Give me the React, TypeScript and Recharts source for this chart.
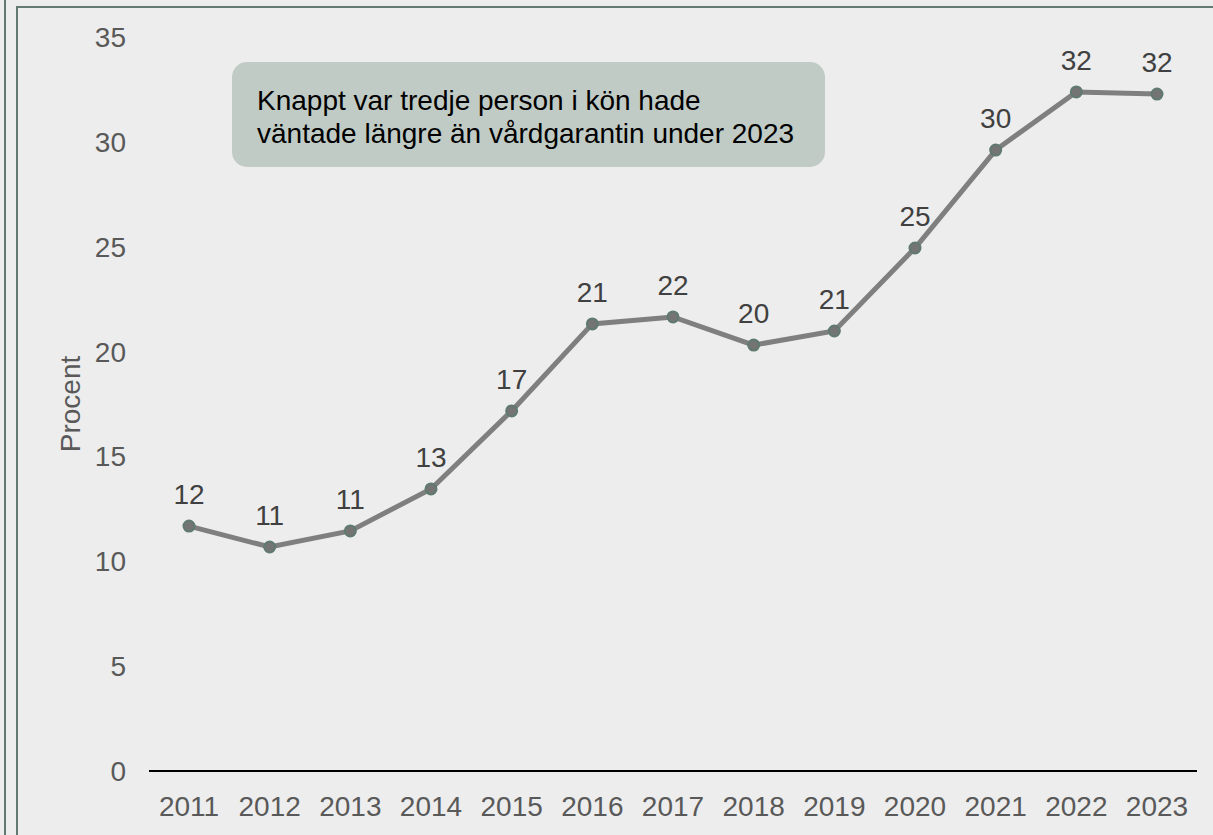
import React from 'react';
import { LineChart, Line, XAxis, YAxis, LabelList } from 'recharts';

const years = ['2011','2012','2013','2014','2015','2016','2017','2018','2019','2020','2021','2022','2023'];
const procent = [11.68, 10.68, 11.45, 13.45, 17.17, 21.32, 21.65, 20.31, 20.98, 24.94, 29.61, 32.38, 32.28];
const yTicks = [0, 5, 10, 15, 20, 25, 30, 35];
const annotationLines = ['Knappt var tredje person i kön hade', 'väntade längre än vårdgarantin under 2023'];
const yLabel = 'Procent';

const data = years.map((y, i) => ({ year: y, value: procent[i] }));

const FONT = '"Liberation Sans", Arial, sans-serif';
const BORDER = '#627a70';

export default function App() {
  return (
    <div style={{ position: 'absolute', left: 0, top: 0, width: 1213, height: 835, background: '#ededed', overflow: 'hidden', fontFamily: FONT }}>
      <div style={{ position: 'absolute', left: 4, top: 0, width: 2, height: 835, background: BORDER }} />
      <div style={{ position: 'absolute', left: 16, top: 6, width: 1197, height: 2, background: BORDER }} />
      <div style={{ position: 'absolute', left: 16, top: 6, width: 2, height: 829, background: BORDER }} />
      <div style={{ position: 'absolute', left: 0, top: 0 }}>
        <LineChart width={1213} height={835} data={data} margin={{ top: 37, right: 16, bottom: 0, left: 0 }}>
          <XAxis
            dataKey="year"
            height={64}
            padding={{ left: 40, right: 40 }}
            axisLine={{ stroke: '#000000', strokeWidth: 2 }}
            tickLine={false}
            tickSize={0}
            tickMargin={25}
            tick={{ fill: '#595959', fontSize: 28, fontFamily: FONT }}
            interval={0}
          />
          <YAxis
            width={149}
            domain={[0, 35]}
            ticks={yTicks}
            axisLine={false}
            tickLine={false}
            tickSize={0}
            tickMargin={23}
            tick={{ fill: '#595959', fontSize: 28, fontFamily: FONT }}
            label={{
              content: () => (
                <text x={80} y={404} transform="rotate(-90 80 404)" textAnchor="middle" fill="#595959" fontSize={28} fontFamily={FONT}>
                  {yLabel}
                </text>
              ),
            }}
          />
          <Line
            type="linear"
            dataKey="value"
            stroke="#7f7f7f"
            strokeWidth={5}
            dot={{ r: 5.5, fill: '#747474', stroke: '#5f7a6e', strokeWidth: 2 }}
            isAnimationActive={false}
          >
            <LabelList
              dataKey="value"
              position="top"
              offset={22}
              formatter={(v: number) => Math.round(v)}
              style={{ fill: '#404040', fontSize: 28, fontFamily: FONT }}
            />
          </Line>
        </LineChart>
      </div>
      <div
        style={{
          position: 'absolute', left: 232, top: 62, width: 593, height: 105,
          background: '#c1cbc5', borderRadius: 15, boxSizing: 'border-box',
          padding: '22px 0 0 25px', color: '#000', fontSize: 28, lineHeight: '33px', fontFamily: FONT,
        }}
      >
        {annotationLines.map((l, i) => (
          <div key={i} style={{ whiteSpace: 'nowrap' }}>{l}</div>
        ))}
      </div>
    </div>
  );
}
